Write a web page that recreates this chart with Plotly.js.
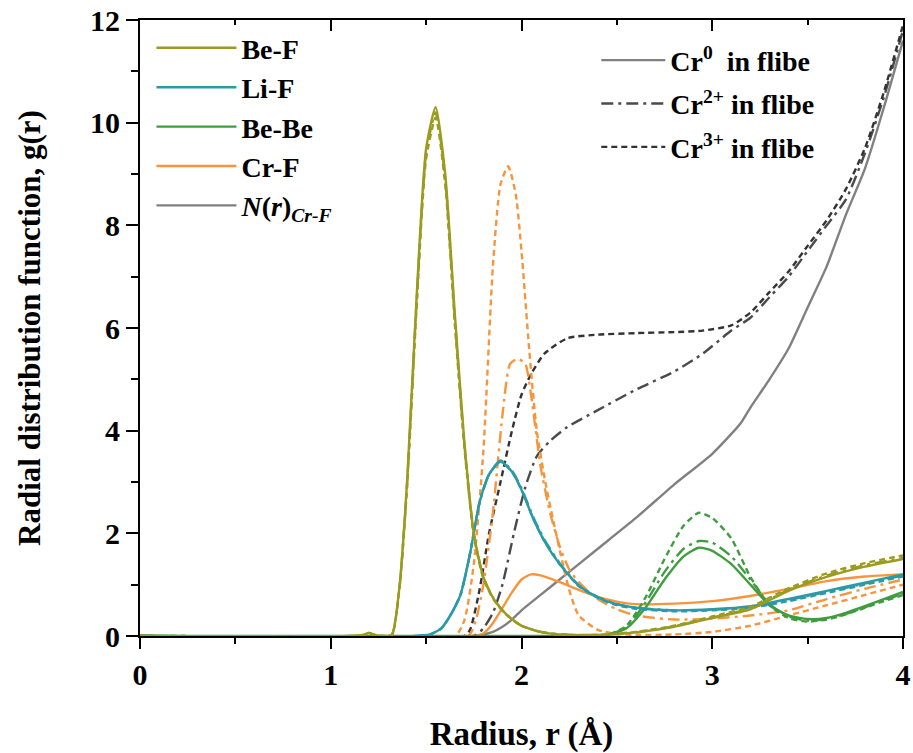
<!DOCTYPE html>
<html>
<head>
<meta charset="utf-8">
<script src="https://cdn.plot.ly/plotly-3.0.1.min.js"></script>
<style>html,body{margin:0;padding:0;background:#fff;}#chart{width:913px;height:753px;}</style>
</head>
<body>
<div id="chart"></div>
<script>
// ---- data ----
// Be-F pair
var rBeF   = [0, 1.1, 1.17, 1.2, 1.23, 1.28, 1.32, 1.36, 1.40, 1.45, 1.50, 1.55, 1.60, 1.65, 1.70, 1.75, 1.80, 1.85, 1.90, 1.95, 2.0, 2.1, 2.2, 2.4, 2.6, 2.8, 3.0, 3.2, 3.4, 3.6, 3.8, 4.0];
var gBeF_0 = [0, 0, 0.02, 0.06, 0.02, 0, 0.02, 0.95, 3.0, 6.6, 9.5, 10.3, 9.0, 6.3, 3.8, 2.0, 1.15, 0.75, 0.5, 0.33, 0.2, 0.08, 0.03, 0.02, 0.07, 0.18, 0.35, 0.52, 0.88, 1.15, 1.35, 1.5];
var gBeF_2 = [0, 0, 0.02, 0.06, 0.02, 0, 0.02, 0.93, 2.95, 6.5, 9.4, 10.2, 8.9, 6.2, 3.75, 2.0, 1.15, 0.75, 0.5, 0.33, 0.2, 0.08, 0.03, 0.02, 0.07, 0.19, 0.36, 0.54, 0.9, 1.18, 1.38, 1.52];
var gBeF_3 = [0, 0, 0.02, 0.06, 0.02, 0, 0.02, 0.92, 2.9, 6.4, 9.3, 10.1, 8.8, 6.1, 3.7, 1.95, 1.12, 0.73, 0.49, 0.32, 0.2, 0.08, 0.03, 0.02, 0.08, 0.2, 0.38, 0.57, 0.93, 1.22, 1.42, 1.57];
// Li-F pair
var rLiF   = [0, 1.45, 1.52, 1.58, 1.63, 1.68, 1.73, 1.78, 1.83, 1.89, 1.95, 2.0, 2.06, 2.12, 2.2, 2.3, 2.4, 2.5, 2.6, 2.8, 3.0, 3.2, 3.4, 3.6, 3.8, 4.0];
var gLiF_0 = [0, 0, 0.03, 0.15, 0.42, 0.8, 1.6, 2.6, 3.15, 3.4, 3.2, 2.85, 2.3, 1.85, 1.4, 0.98, 0.75, 0.62, 0.55, 0.5, 0.52, 0.58, 0.72, 0.88, 1.04, 1.2];
var gLiF_2 = [0, 0, 0.03, 0.15, 0.42, 0.8, 1.6, 2.6, 3.15, 3.42, 3.22, 2.88, 2.33, 1.88, 1.42, 0.99, 0.76, 0.62, 0.55, 0.5, 0.51, 0.56, 0.7, 0.86, 1.02, 1.18];
var gLiF_3 = [0, 0, 0.03, 0.15, 0.42, 0.8, 1.6, 2.6, 3.15, 3.4, 3.2, 2.85, 2.3, 1.85, 1.4, 0.97, 0.74, 0.6, 0.53, 0.48, 0.5, 0.55, 0.68, 0.84, 1.0, 1.16];
// Be-Be pair
var rBeBe   = [0, 2.3, 2.45, 2.55, 2.65, 2.75, 2.85, 2.93, 3.0, 3.1, 3.2, 3.3, 3.4, 3.5, 3.6, 3.7, 3.8, 3.9, 4.0];
var gBeBe_0 = [0, 0, 0.02, 0.15, 0.55, 1.1, 1.55, 1.72, 1.66, 1.4, 1.0, 0.6, 0.4, 0.33, 0.35, 0.45, 0.58, 0.72, 0.86];
var gBeBe_2 = [0, 0, 0.02, 0.17, 0.65, 1.25, 1.7, 1.85, 1.82, 1.55, 1.1, 0.62, 0.38, 0.3, 0.33, 0.43, 0.56, 0.7, 0.82];
var gBeBe_3 = [0, 0, 0.02, 0.2, 0.75, 1.5, 2.15, 2.4, 2.3, 1.9, 1.15, 0.6, 0.35, 0.28, 0.32, 0.42, 0.55, 0.68, 0.8];
// Cr-F pair
var rCrF_0 = [0, 1.75, 1.8, 1.85, 1.9, 1.95, 2.0, 2.05, 2.1, 2.2, 2.3, 2.4, 2.5, 2.6, 2.8, 3.0, 3.2, 3.4, 3.6, 3.8, 4.0];
var gCrF_0 = [0, 0, 0.05, 0.25, 0.55, 0.85, 1.1, 1.2, 1.18, 1.05, 0.9, 0.76, 0.67, 0.62, 0.63, 0.68, 0.78, 0.92, 1.07, 1.16, 1.2];
var rCrF_2 = [0, 1.72, 1.76, 1.8, 1.85, 1.9, 1.94, 1.98, 2.02, 2.05, 2.1, 2.15, 2.2, 2.25, 2.3, 2.4, 2.5, 2.6, 2.8, 3.0, 3.2, 3.4, 3.6, 3.8, 4.0];
var gCrF_2 = [0, 0, 0.3, 1.0, 2.4, 4.3, 5.3, 5.4, 5.3, 4.7, 3.3, 2.4, 1.75, 1.3, 1.05, 0.72, 0.52, 0.4, 0.32, 0.34, 0.4, 0.5, 0.72, 0.92, 1.1];
var rCrF_3 = [0, 1.65, 1.7, 1.75, 1.8, 1.85, 1.89, 1.93, 1.97, 2.0, 2.04, 2.08, 2.13, 2.2, 2.25, 2.3, 2.4, 2.5, 2.6, 2.8, 3.0, 3.2, 3.4, 3.6, 3.8, 4.0];
var gCrF_3 = [0, 0, 0.3, 1.4, 3.6, 7.2, 8.8, 9.15, 8.6, 7.5, 5.6, 4.0, 2.9, 1.68, 0.9, 0.4, 0.12, 0.04, 0.02, 0.03, 0.08, 0.2, 0.4, 0.6, 0.8, 1.0];
// N(r) Cr-F coordination number
var rN_0 = [0, 1.75, 1.8, 1.85, 1.9, 1.95, 2.0, 2.1, 2.2, 2.4, 2.6, 2.8, 3.0, 3.15, 3.2, 3.3, 3.4, 3.5, 3.6, 3.7, 3.8, 3.9, 4.0];
var nCr_0 = [0, 0, 0.03, 0.08, 0.18, 0.32, 0.5, 0.8, 1.1, 1.7, 2.3, 2.95, 3.55, 4.15, 4.45, 5.0, 5.6, 6.4, 7.2, 8.2, 9.1, 10.3, 11.6];
var rN_2 = [0, 1.75, 1.8, 1.85, 1.9, 1.96, 2.02, 2.08, 2.15, 2.24, 2.4, 2.6, 2.8, 2.95, 3.1, 3.2, 3.3, 3.4, 3.5, 3.6, 3.7, 3.8, 3.9, 4.0];
var nCr_2 = [0, 0, 0.15, 0.45, 1.0, 2.0, 2.9, 3.5, 3.8, 4.07, 4.4, 4.8, 5.15, 5.5, 5.95, 6.2, 6.6, 7.0, 7.5, 8.0, 8.5, 9.4, 10.5, 11.8];
var rN_3 = [0, 1.7, 1.73, 1.78, 1.83, 1.89, 1.95, 2.0, 2.05, 2.12, 2.24, 2.4, 2.6, 2.8, 2.95, 3.1, 3.2, 3.3, 3.4, 3.5, 3.6, 3.7, 3.8, 3.9, 4.0];
var nCr_3 = [0, 0, 0.12, 0.9, 2.0, 3.0, 4.0, 4.7, 5.1, 5.5, 5.8, 5.87, 5.9, 5.92, 5.95, 6.05, 6.3, 6.7, 7.1, 7.6, 8.1, 8.7, 9.5, 10.6, 11.9];

// legend labels
var pairNames = ['<b>Be-F</b>', '<b>Li-F</b>', '<b>Be-Be</b>', '<b>Cr-F</b>', '<b><i>N</i>(<i>r</i>)<sub><i>Cr-F</i></sub></b>'];
var stateNames = ['<b>Cr<sup>0</sup>  in flibe</b>', '<b>Cr<sup>2+</sup> in flibe</b>', '<b>Cr<sup>3+</sup> in flibe</b>'];

// ---- styles ----
var cOlive = '#9a9b1f', cTeal = '#2a9ba6', cGreen = '#3f9c3f', cOrange = '#f7953d';
var cGray0 = '#808080', cGray2 = '#4a4a4a', cGray3 = '#333333';
var DASH2 = '12px,5px,3px,5px', DASH3 = '6px,4px';
var LW = 2.4;

function tr(x, y, color, dash) {
  return {
    type: 'scatter', mode: 'lines', x: x, y: y,
    line: {color: color, width: LW, dash: dash, shape: 'spline', smoothing: 0.6},
    showlegend: false, hoverinfo: 'skip'
  };
}

var traces = [
  tr(rN_0, nCr_0, cGray0, 'solid'),
  tr(rN_2, nCr_2, cGray2, DASH2),
  tr(rN_3, nCr_3, cGray3, DASH3),
  tr(rCrF_0, gCrF_0, cOrange, 'solid'),
  tr(rCrF_2, gCrF_2, cOrange, DASH2),
  tr(rCrF_3, gCrF_3, cOrange, DASH3),
  tr(rBeBe, gBeBe_0, cGreen, 'solid'),
  tr(rBeBe, gBeBe_2, cGreen, DASH2),
  tr(rBeBe, gBeBe_3, cGreen, DASH3),
  tr(rLiF, gLiF_0, cTeal, 'solid'),
  tr(rLiF, gLiF_2, cTeal, DASH2),
  tr(rLiF, gLiF_3, cTeal, DASH3),
  tr(rBeF, gBeF_0, cOlive, 'solid'),
  tr(rBeF, gBeF_2, cOlive, DASH2),
  tr(rBeF, gBeF_3, cOlive, DASH3)
];

// legend-only entries
var gid = 0;
function legendOnly(color, dash, name, legend) {
  gid += 1;
  return {type: 'scatter', mode: 'lines', x: [null], y: [null], name: name,
    line: {color: color, width: LW, dash: dash}, legend: legend, legendgroup: 'g' + gid,
    showlegend: true, hoverinfo: 'skip'};
}
var legendTraces = [
  legendOnly(cOlive, 'solid', pairNames[0], 'legend'),
  legendOnly(cTeal, 'solid', pairNames[1], 'legend'),
  legendOnly(cGreen, 'solid', pairNames[2], 'legend'),
  legendOnly(cOrange, 'solid', pairNames[3], 'legend'),
  legendOnly(cGray0, 'solid', pairNames[4], 'legend'),
  legendOnly(cGray0, 'solid', stateNames[0], 'legend2'),
  legendOnly(cGray2, DASH2, stateNames[1], 'legend2'),
  legendOnly(cGray3, DASH3, stateNames[2], 'legend2')
];
var topCarrier = {type: 'scatter', mode: 'lines', x: [null], y: [null], xaxis: 'x2', yaxis: 'y',
  showlegend: false, hoverinfo: 'skip'};

var FONT = 'Liberation Serif, Times New Roman, serif';
var layout = {
  width: 913, height: 753,
  margin: {l: 140, r: 10, t: 20, b: 117},
  paper_bgcolor: '#fff', plot_bgcolor: '#fff',
  font: {family: FONT, color: '#000'},
  xaxis: {
    range: [0, 4], tickvals: [0, 1, 2, 3, 4], ticktext: ['0', '1', '2', '3', '4'],
    ticks: 'outside', ticklen: 11, tickwidth: 2, tickcolor: '#000',
    minor: {dtick: 0.5, ticks: 'outside', ticklen: 6, tickwidth: 2, tickcolor: '#000'},
    showline: true, linewidth: 2, linecolor: '#000', mirror: true,
    showgrid: false, zeroline: false,
    tickfont: {family: FONT, size: 30, weight: 'bold'},
    title: {text: 'Radius, r (Å)', font: {family: FONT, size: 33, weight: 'bold'}, standoff: 37}
  },
  xaxis2: {
    overlaying: 'x', side: 'top', range: [0, 4], tickvals: [0, 1, 2, 3, 4],
    ticks: 'inside', ticklen: 11, tickwidth: 2, tickcolor: '#000',
    minor: {dtick: 0.5, ticks: 'inside', ticklen: 5, tickwidth: 2, tickcolor: '#000'},
    showticklabels: false, showline: false, showgrid: false, zeroline: false
  },
  yaxis: {
    range: [0, 12], tickvals: [0, 2, 4, 6, 8, 10, 12], ticktext: ['0', '2', '4', '6', '8', '10', '12'],
    ticks: 'outside', ticklen: 12, tickwidth: 2, tickcolor: '#000',
    minor: {dtick: 1, ticks: 'outside', ticklen: 7, tickwidth: 2, tickcolor: '#000'},
    showline: true, linewidth: 2, linecolor: '#000', mirror: true,
    showgrid: false, zeroline: false,
    tickfont: {family: FONT, size: 30, weight: 'bold'},
    title: {text: 'Radial distribution function, g(r)', font: {family: FONT, size: 31, weight: 'bold'}, standoff: 40}
  },
  legend: {
    x: 0.015, y: 0.995, xanchor: 'left', yanchor: 'top',
    bgcolor: 'rgba(0,0,0,0)', borderwidth: 0,
    font: {family: FONT, size: 28, color: '#000'},
    itemwidth: 80, tracegroupgap: 0, traceorder: 'grouped'
  },
  legend2: {
    x: 0.598, y: 0.975, xanchor: 'left', yanchor: 'top',
    bgcolor: 'rgba(0,0,0,0)', borderwidth: 0,
    font: {family: FONT, size: 28, color: '#000'},
    itemwidth: 64, tracegroupgap: 4, traceorder: 'grouped'
  },
  showlegend: true
};

Plotly.newPlot('chart', traces.concat(legendTraces).concat([topCarrier]), layout, {displayModeBar: false, staticPlot: true});
</script>
</body>
</html>
